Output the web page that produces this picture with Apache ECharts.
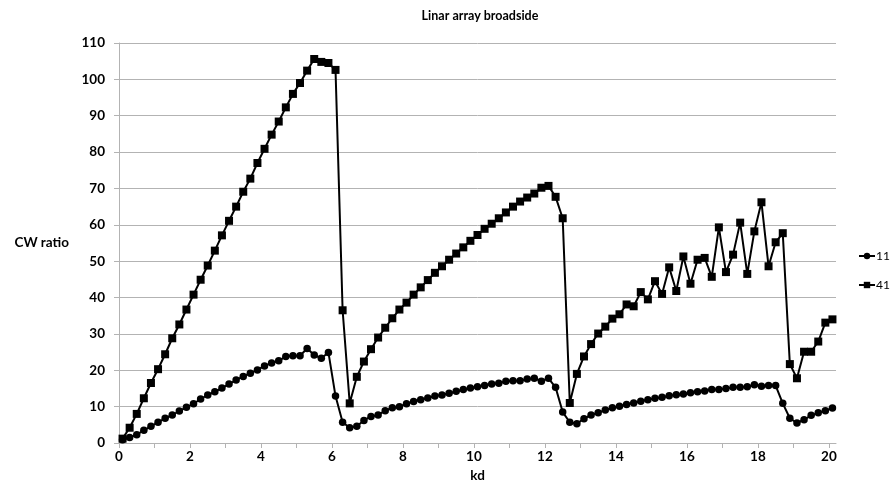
<!DOCTYPE html>
<html>
<head>
<meta charset="utf-8">
<script src="https://cdn.jsdelivr.net/npm/echarts@6/dist/echarts.min.js"></script>
<style>
  html, body { margin: 0; padding: 0; background: #fff; }
  #chart { width: 894px; height: 495px; }
</style>
</head>
<body>
<div id="chart"></div>
<script>
const kd = [
  0.1, 0.3, 0.5, 0.7, 0.9, 1.1, 1.3, 1.5, 1.7, 1.9,
  2.1, 2.3, 2.5, 2.7, 2.9, 3.1, 3.3, 3.5, 3.7, 3.9,
  4.1, 4.3, 4.5, 4.7, 4.9, 5.1, 5.3, 5.5, 5.7, 5.9,
  6.1, 6.3, 6.5, 6.7, 6.9, 7.1, 7.3, 7.5, 7.7, 7.9,
  8.1, 8.3, 8.5, 8.7, 8.9, 9.1, 9.3, 9.5, 9.7, 9.9,
  10.1, 10.3, 10.5, 10.7, 10.9, 11.1, 11.3, 11.5, 11.7, 11.9,
  12.1, 12.3, 12.5, 12.7, 12.9, 13.1, 13.3, 13.5, 13.7, 13.9,
  14.1, 14.3, 14.5, 14.7, 14.9, 15.1, 15.3, 15.5, 15.7, 15.9,
  16.1, 16.3, 16.5, 16.7, 16.9, 17.1, 17.3, 17.5, 17.7, 17.9,
  18.1, 18.3, 18.5, 18.7, 18.9, 19.1, 19.3, 19.5, 19.7, 19.9,
  20.1
];

const cw11 = [
  0.9, 1.5, 2.3, 3.5, 4.6, 5.7, 6.8, 7.7, 8.8, 9.8,
  10.8, 12.1, 13.2, 14.1, 15.1, 16.2, 17.3, 18.3, 19.2, 20.1,
  21.2, 22.0, 22.6, 23.8, 24.0, 24.0, 26.0, 24.2, 23.3, 24.9,
  12.9, 5.7, 4.2, 4.6, 6.2, 7.3, 7.7, 8.9, 9.7, 10.0,
  10.8, 11.4, 11.9, 12.4, 12.9, 13.2, 13.7, 14.2, 14.7, 15.1,
  15.5, 15.8, 16.2, 16.4, 17.0, 17.1, 17.1, 17.6, 17.8, 17.0,
  17.8, 15.3, 8.5, 5.7, 5.3, 6.7, 7.7, 8.3, 9.1, 9.7,
  10.1, 10.6, 11.0, 11.5, 11.9, 12.3, 12.6, 13.0, 13.3, 13.5,
  13.8, 14.1, 14.3, 14.7, 14.7, 15.0, 15.3, 15.3, 15.5, 16.0,
  15.6, 15.8, 15.8, 10.9, 6.8, 5.5, 6.4, 7.6, 8.3, 8.9,
  9.6
];

const cw41 = [
  1.2, 4.2, 8.0, 12.3, 16.5, 20.3, 24.4, 28.8, 32.6, 36.7,
  40.8, 44.9, 48.8, 52.9, 57.1, 61.1, 65.0, 69.1, 72.7, 77.0,
  80.9, 84.8, 88.4, 92.3, 96.0, 99.0, 102.4, 105.6, 104.8, 104.5,
  102.6, 36.5, 10.9, 18.2, 22.4, 25.8, 29.0, 31.7, 34.3, 36.7,
  38.6, 40.8, 42.8, 44.8, 46.8, 48.6, 50.4, 52.1, 53.8, 55.6,
  57.2, 58.9, 60.3, 61.8, 63.4, 65.0, 66.4, 67.5, 68.6, 70.2,
  70.7, 67.7, 61.8, 11.0, 19.0, 23.8, 27.2, 30.1, 32.0, 34.2,
  35.4, 38.1, 37.6, 41.5, 39.5, 44.5, 41.0, 48.3, 41.8, 51.3,
  43.8, 50.4, 50.9, 45.7, 59.3, 47.0, 51.8, 60.6, 46.5, 58.2,
  66.2, 48.6, 55.2, 57.7, 21.7, 17.8, 25.1, 25.1, 27.9, 33.1,
  34.0
];

const xTicks = [0, 1, 2, 3, 4, 5, 6, 7, 8, 9, 10, 11, 12, 13, 14, 15, 16, 17, 18, 19, 20];
const xLabels = [0, 2, 4, 6, 8, 10, 12, 14, 16, 18, 20];

const FONT = "Lato, 'Open Sans', sans-serif";
const AXIS_GRAY = "#b3b3b3";

function toPairs(values) {
  return values.map((v, i) => [kd[i], v]);
}

function createOption() {
  return {
    animation: false,
    title: {
      text: "Linar array broadside",
      left: 475,
      top: 4,
      textAlign: "center",
      textStyle: { fontFamily: FONT, fontSize: 12.5, fontWeight: "bold", color: "#000" },
    },
    grid: { left: 119, right: 58, top: 43, bottom: 52, containLabel: false },
    legend: {
      orient: "vertical",
      left: 853,
      top: 245,
      itemGap: 17,
      itemWidth: 16,
      itemHeight: 8,
      textStyle: { fontFamily: FONT, fontSize: 12, color: "#000", padding: [0, 0, 0, -4] },
      data: ["11", "41"],
    },
    xAxis: {
      type: "value",
      min: 0,
      max: 20.2,
      name: "kd",
      nameLocation: "middle",
      nameGap: 22,
      nameTextStyle: { fontFamily: FONT, fontSize: 13.5, fontWeight: "bold", color: "#000" },
      axisLine: { lineStyle: { color: AXIS_GRAY, width: 1 } },
      axisTick: { show: true, length: 5, customValues: xTicks, lineStyle: { color: AXIS_GRAY } },
      axisLabel: {
        customValues: xLabels,
        margin: 7,
        fontFamily: FONT, fontSize: 13.5, fontWeight: "bold", color: "#000",
      },
      splitLine: { show: false },
    },
    yAxis: {
      type: "value",
      min: 0,
      max: 110,
      interval: 10,
      name: "CW ratio",
      nameLocation: "middle",
      nameRotate: 0,
      nameGap: 50,
      nameTextStyle: { fontFamily: FONT, fontSize: 13.5, fontWeight: "bold", color: "#000", align: "right" },
      axisLine: { show: true, lineStyle: { color: AXIS_GRAY, width: 1 } },
      axisTick: { show: true, length: 5, lineStyle: { color: AXIS_GRAY } },
      axisLabel: { margin: 14, fontFamily: FONT, fontSize: 13.5, fontWeight: "bold", color: "#000" },
      splitLine: { lineStyle: { color: AXIS_GRAY, width: 1 } },
    },
    series: [
      {
        name: "11",
        type: "line",
        data: toPairs(cw11),
        symbol: "circle",
        symbolSize: 7.5,
        showAllSymbol: true,
        lineStyle: { color: "#000", width: 2 },
        itemStyle: { color: "#000" },
      },
      {
        name: "41",
        type: "line",
        data: toPairs(cw41),
        symbol: "rect",
        symbolSize: 8,
        showAllSymbol: true,
        lineStyle: { color: "#000", width: 2 },
        itemStyle: { color: "#000" },
      },
    ],
  };
}

const chart = echarts.init(document.getElementById("chart"), null, { renderer: "canvas" });
chart.setOption(createOption());
</script>
</body>
</html>
